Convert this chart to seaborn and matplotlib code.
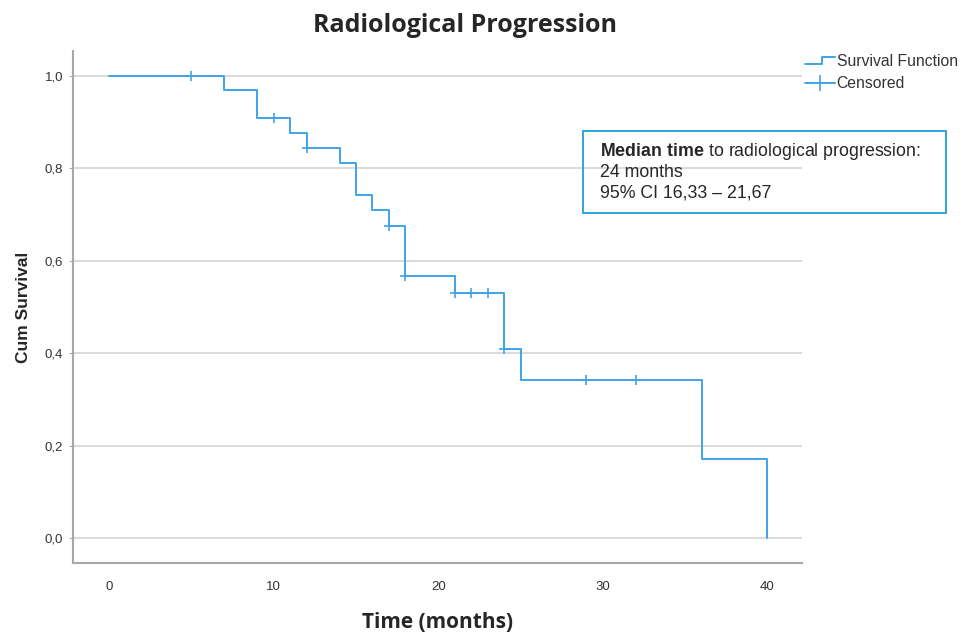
import numpy as np
import pandas as pd
import matplotlib
matplotlib.use("Agg")
import matplotlib.pyplot as plt
import seaborn as sns
from matplotlib.lines import Line2D
from matplotlib.legend_handler import HandlerBase
from matplotlib.patches import Rectangle

# ---- data ----
step_times = [0, 7, 9, 11, 12, 14, 15, 16, 17, 18, 21, 24, 25, 36, 40]
survival = [1.0, 0.970, 0.909, 0.877, 0.845, 0.811, 0.743, 0.709, 0.675,
            0.568, 0.530, 0.410, 0.342, 0.171, 0.0]
censored_times = [5, 10, 12, 17, 18, 21, 22, 23, 24, 29, 32]
censored_surv = [1.0, 0.909, 0.845, 0.675, 0.568, 0.530, 0.530, 0.530,
                 0.410, 0.342, 0.342]
x_ticks = [0, 10, 20, 30, 40]
y_ticks = [0.0, 0.2, 0.4, 0.6, 0.8, 1.0]
y_tick_labels = ["0,0", "0,2", "0,4", "0,6", "0,8", "1,0"]
annot_lines = ["$\\mathbf{Median\\ time}$ to radiological progression:",
               "24 months",
               "95% CI 16,33 \u2013 21,67"]

LINE = "#3fa3e8"

sns.set_theme(style="white")
plt.rcParams['font.family'] = ['Liberation Sans', 'DejaVu Sans']
plt.rcParams['mathtext.fontset'] = 'custom'
plt.rcParams['mathtext.rm'] = 'Liberation Sans'
plt.rcParams['mathtext.bf'] = 'Liberation Sans:bold'

fig = plt.figure(figsize=(9.68, 6.37), dpi=100)
ax = fig.add_axes([73/968, 1-563/637, (802-73)/968, (563-51)/637])

df_step = pd.DataFrame({"time": step_times, "surv": survival})
df_cens = pd.DataFrame({"time": censored_times, "surv": censored_surv})

for yv in y_ticks:
    ax.axhline(yv, color="#d4d4d4", lw=1.2, zorder=0)

sns.lineplot(data=df_step, x="time", y="surv", ax=ax, drawstyle="steps-post",
             color=LINE, lw=1.4, zorder=3, legend=False)
sns.scatterplot(data=df_cens, x="time", y="surv", ax=ax, marker="+", s=60,
                color=LINE, linewidth=1.2, zorder=4, legend=False)

ax.set_xlim(-2.2, 42.1)
ax.set_ylim(-0.054, 1.054)
ax.set_xticks(x_ticks)
ax.set_xticklabels([str(v) for v in x_ticks], fontsize=9.5, color="#333333")
ax.set_yticks(y_ticks)
ax.set_yticklabels(y_tick_labels, fontsize=9.5, color="#333333")
ax.tick_params(axis="y", which="both", left=True, length=3, width=0.8, color="#aaaaaa", pad=4)
ax.tick_params(axis="x", bottom=False, pad=7)

for s in ["top", "right"]:
    ax.spines[s].set_visible(False)
for s in ["left", "bottom"]:
    ax.spines[s].set_color("#a8a8a8")
    ax.spines[s].set_linewidth(1.5)

ax.set_xlabel("Time (months)", fontsize=15, fontweight="bold",
              family=["Open Sans", "DejaVu Sans"], labelpad=14)
ax.set_ylabel("Cum Survival", fontsize=12.5, fontweight="bold", labelpad=10)
fig.text(465/968, 1-25/637, "Radiological Progression", ha="center", va="center",
         fontsize=18, fontweight="bold", family=["Open Sans", "DejaVu Sans"])

# annotation box
for i, line in enumerate(annot_lines):
    fig.text(600/968, 1-(152 + 20.5*i)/637, line, ha="left", va="center", fontsize=12.8)
fig.patches.append(Rectangle((583/968, 1-213/637), (946-583)/968, (213-131)/637,
                             transform=fig.transFigure, fill=False, ec="#2aa6e0", lw=1.4))

class StepHandler(HandlerBase):
    def create_artists(self, legend, orig_handle, xdescent, ydescent, width, height, fontsize, trans):
        x0 = -xdescent
        y0 = -ydescent
        xs = [x0, x0 + width * 0.55, x0 + width * 0.55, x0 + width]
        ys = [y0 + height * 0.15, y0 + height * 0.15, y0 + height * 0.85, y0 + height * 0.85]
        ln = Line2D(xs, ys, color=LINE, lw=1.4, transform=trans)
        return [ln]

step_handle = Line2D([], [], color=LINE)
cens_handle = Line2D([], [], color=LINE, lw=1.4, marker="|", markersize=11, markeredgewidth=1.2)
leg = fig.legend([step_handle, cens_handle], ["Survival Function", "Censored"],
                 handler_map={step_handle: StepHandler()},
                 loc="upper left", bbox_to_anchor=(802/968, 1-51/637), frameon=False,
                 fontsize=11.3, handlelength=1.9, handletextpad=0.1, labelspacing=0.45,
                 borderaxespad=0, borderpad=0.2)
for t in leg.get_texts():
    t.set_color("#333333")

fig.savefig("out.png", dpi=100)
